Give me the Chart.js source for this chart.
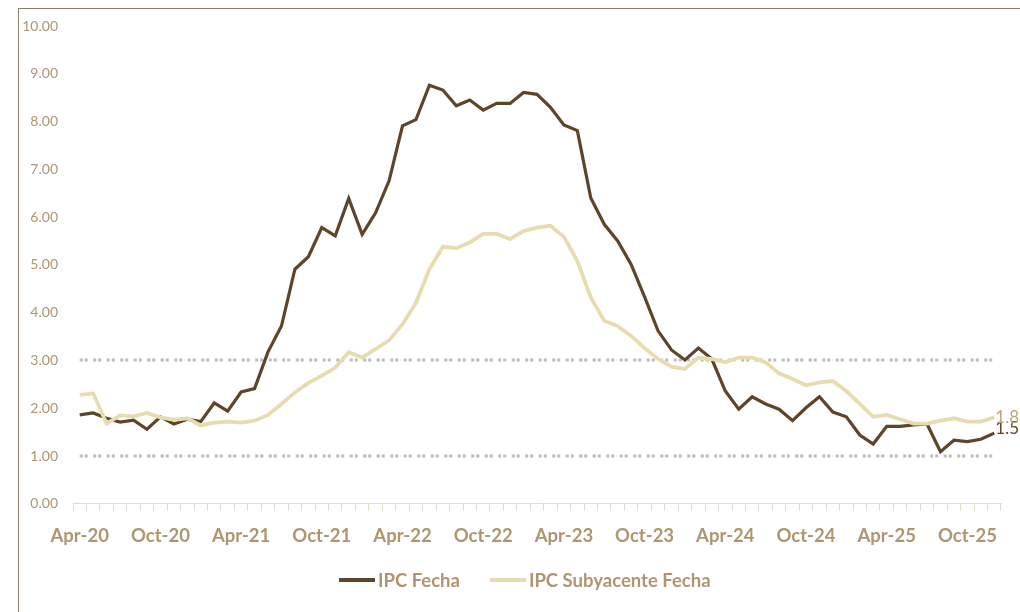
<!DOCTYPE html>
<html>
<head>
<meta charset="utf-8">
<script src="https://cdn.jsdelivr.net/npm/chart.js@4.4.1/dist/chart.umd.min.js"></script>
<style>
    html, body { margin: 0; padding: 0; background: #fff; }
    body { width: 1020px; height: 612px; position: relative; overflow: hidden; font-family: Lato, sans-serif; }
    #frame { position: absolute; left: 18px; top: 8px; width: 1010px; height: 620px; border-left: 1px solid #8a7e68; border-top: 1px solid #8a7e68; }
    #chart { position: absolute; left: 0; top: 0; }
    #legend { position: absolute; left: 339px; top: 568px; display: flex; align-items: center; font: bold 18.5px Lato, sans-serif; color: #ad9670; line-height: 24px; }
    .item { display: flex; align-items: center; margin-right: 30px; }
    .swatch { width: 36px; height: 4px; margin-right: 3px; }
</style>
</head>
<body>
<div id="frame"></div>
<canvas id="chart" width="1020" height="612"></canvas>
<div id="legend"></div>
<script>
// Inflación: IPC y subyacente, variación anual (%)
const months = ['Jan', 'Feb', 'Mar', 'Apr', 'May', 'Jun', 'Jul', 'Aug', 'Sep', 'Oct', 'Nov', 'Dec'];
const years = ['20', '21', '22', '23', '24', '25'];

const ipcFecha = [
    1.86, 1.90, 1.79, 1.71, 1.75, 1.56, 1.82, 1.67, 1.77,                  // abr-dic 20
    1.72, 2.11, 1.94, 2.34, 2.41, 3.18, 3.72, 4.91, 5.17, 5.78, 5.61, 6.39, // 21
    5.64, 6.09, 6.76, 7.91, 8.04, 8.76, 8.66, 8.33, 8.45, 8.24, 8.38, 8.38, // 22
    8.61, 8.57, 8.30, 7.93, 7.81, 6.40, 5.85, 5.50, 5.01, 4.33, 3.62, 3.22, // 23
    3.01, 3.26, 3.03, 2.36, 1.98, 2.24, 2.09, 1.98, 1.74, 2.01, 2.24, 1.92, // 24
    1.82, 1.44, 1.25, 1.62, 1.62, 1.65, 1.67, 1.09, 1.33, 1.30, 1.35, 1.48  // 25
];
const ipcSubyacente = [
    2.28, 2.31, 1.68, 1.85, 1.83, 1.90, 1.81, 1.76, 1.79,
    1.64, 1.70, 1.72, 1.70, 1.74, 1.86, 2.09, 2.33, 2.53, 2.68, 2.85, 3.17,
    3.06, 3.24, 3.42, 3.76, 4.21, 4.91, 5.38, 5.35, 5.47, 5.65, 5.65, 5.54,
    5.71, 5.78, 5.82, 5.59, 5.08, 4.32, 3.83, 3.72, 3.51, 3.26, 3.03, 2.87,
    2.82, 3.06, 3.03, 2.96, 3.06, 3.06, 2.96, 2.73, 2.61, 2.48, 2.54, 2.57,
    2.36, 2.09, 1.82, 1.86, 1.77, 1.68, 1.68, 1.74, 1.79, 1.72, 1.72, 1.81
];
const referenceLevels = [1, 3];

// etiquetas mensuales abr-20 .. dic-25
const labels = [];
years.forEach((yy, k) => {
    months.forEach((m, j) => {
        if (k === 0 && j < 3) return;
        labels.push(m + '-' + yy);
    });
});

const DARK = '#5e4428';
const LIGHT = '#e7dcb0';
const TEXT = '#ad9670';

const refLinesPlugin = {
    id: 'refLines',
    beforeDatasetsDraw(chart) {
        const { ctx, scales: { x, y } } = chart;
        const x0 = x.getPixelForValue(0);
        const x1 = x.getPixelForValue(labels.length - 1);
        ctx.save();
        ctx.strokeStyle = '#bcbcbc';
        ctx.lineWidth = 3;
        ctx.setLineDash([3, 2, 3, 5.5]);
        referenceLevels.forEach(v => {
            const py = Math.round(y.getPixelForValue(v));
            ctx.beginPath();
            ctx.moveTo(x0, py);
            ctx.lineTo(x1, py);
            ctx.stroke();
        });
        ctx.restore();
    }
};

const endLabelsPlugin = {
    id: 'endLabels',
    afterDatasetsDraw(chart) {
        const { ctx } = chart;
        ctx.save();
        ctx.font = '17px Lato, sans-serif';
        ctx.textAlign = 'left';
        ctx.textBaseline = 'middle';
        chart.data.datasets.forEach((ds, i) => {
            const meta = chart.getDatasetMeta(i);
            const pt = meta.data[meta.data.length - 1];
            const v = ds.data[ds.data.length - 1];
            ctx.fillStyle = ds.endColor;
            ctx.fillText(v.toFixed(1), pt.x + 1, pt.y + ds.endDy);
        });
        ctx.restore();
    }
};

const chart = new Chart(document.getElementById('chart'), {
    type: 'line',
    data: {
        labels: labels,
        datasets: [
            {
                label: 'IPC Fecha',
                data: ipcFecha,
                borderColor: DARK,
                backgroundColor: DARK,
                borderWidth: 3.2,
                pointRadius: 0,
                tension: 0,
                order: 1,
                endColor: DARK,
                endDy: -5
            },
            {
                label: 'IPC Subyacente Fecha',
                data: ipcSubyacente,
                borderColor: LIGHT,
                backgroundColor: LIGHT,
                borderWidth: 3.8,
                pointRadius: 0,
                tension: 0,
                order: 0,
                endColor: '#bba87b',
                endDy: 0
            }
        ]
    },
    options: {
        responsive: false,
        animation: false,
        layout: { padding: { left: 0, right: 19, top: 26, bottom: 51 } },
        plugins: {
            legend: { display: false },
            tooltip: { enabled: false }
        },
        scales: {
            x: {
                type: 'category',
                offset: true,
                grid: {
                    offset: true,
                    drawOnChartArea: false,
                    drawTicks: true,
                    tickLength: 7,
                    color: '#e6dbcf',
                    lineWidth: 1
                },
                border: { display: true, color: '#e6dbcf', width: 1 },
                ticks: {
                    autoSkip: false,
                    maxRotation: 0,
                    minRotation: 0,
                    padding: 14,
                    color: TEXT,
                    font: { family: 'Lato, sans-serif', size: 18.5, weight: 'bold' },
                    callback: function (val, index) {
                        return index % 6 === 0 ? this.getLabelForValue(val) : '';
                    }
                }
            },
            y: {
                min: 0,
                max: 10,
                afterFit: (scale) => { scale.width = 73; },
                grid: { display: false, drawTicks: false },
                border: { display: false },
                ticks: {
                    stepSize: 1,
                    padding: 15,
                    color: TEXT,
                    font: { family: 'Lato, sans-serif', size: 14 },
                    callback: (v) => Number(v).toFixed(2)
                }
            }
        }
    },
    plugins: [refLinesPlugin, endLabelsPlugin]
});

// leyenda
const legendEl = document.getElementById('legend');
chart.data.datasets.forEach(ds => {
    const item = document.createElement('div');
    item.className = 'item';
    item.innerHTML = `<span class="swatch" style="background:${ds.borderColor}"></span><span>${ds.label}</span>`;
    legendEl.appendChild(item);
});
</script>
</body>
</html>
